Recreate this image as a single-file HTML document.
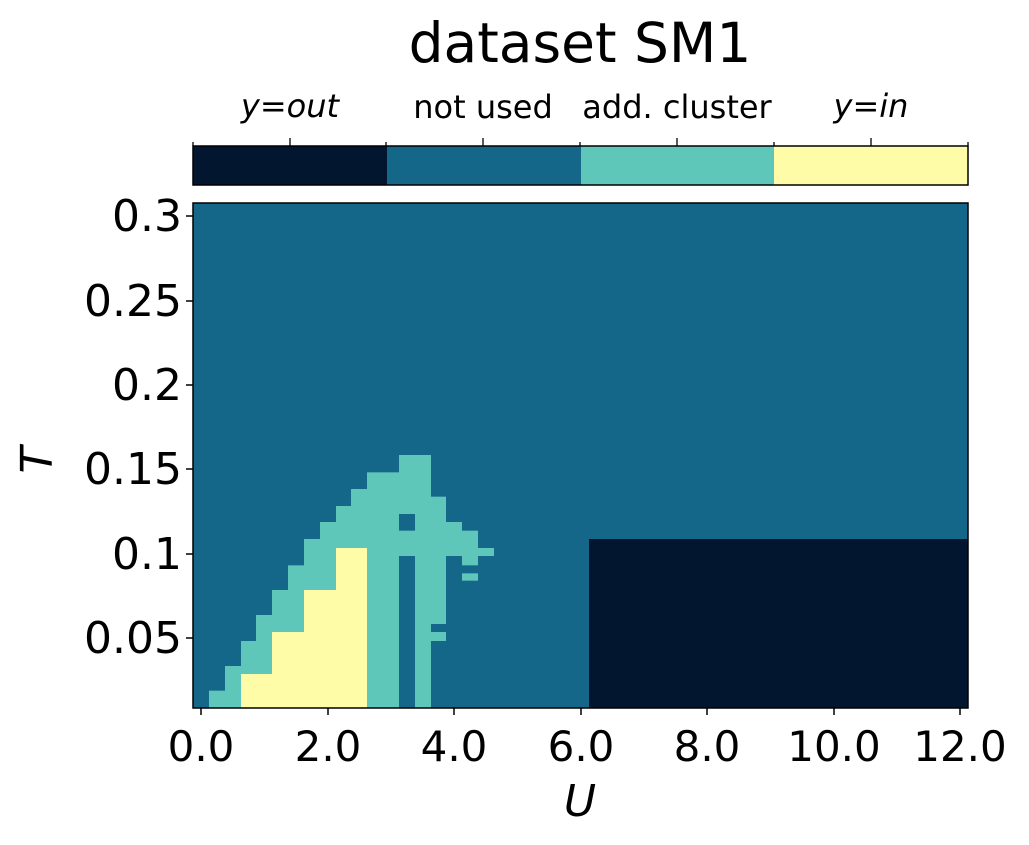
<!DOCTYPE html>
<html><head><style>body{margin:0;background:#fff}svg{display:block}</style></head>
<body>
<svg width="1029" height="845" viewBox="0 0 1029 845" xmlns="http://www.w3.org/2000/svg" font-family="'DejaVu Sans', 'Liberation Sans', sans-serif">
<text x="580" y="62" font-size="55" text-anchor="middle">dataset SM1</text>
<g font-size="32" text-anchor="middle">
<text x="290" y="117"><tspan font-style="italic">y</tspan>=<tspan font-style="italic">out</tspan></text>
<text x="483" y="118">not used</text>
<text x="677" y="118">add. cluster</text>
<text x="871" y="117"><tspan font-style="italic">y</tspan>=<tspan font-style="italic">in</tspan></text>
</g>
<rect x="193" y="146" width="194" height="39" fill="#02172f"/>
<rect x="387" y="146" width="194" height="39" fill="#15678a"/>
<rect x="581" y="146" width="193" height="39" fill="#5ec7b9"/>
<rect x="774" y="146" width="194" height="39" fill="#fffca7"/>
<rect x="193" y="146" width="775" height="39" fill="none" stroke="#000" stroke-width="1.5"/>
<g stroke="#000" stroke-width="1.3">
<line x1="290" y1="146" x2="290" y2="138"/><line x1="483" y1="146" x2="483" y2="138"/>
<line x1="677" y1="146" x2="677" y2="138"/><line x1="871" y1="146" x2="871" y2="138"/>
<line x1="193" y1="146" x2="193" y2="142"/><line x1="386" y1="146" x2="386" y2="142"/>
<line x1="580" y1="146" x2="580" y2="142"/><line x1="774" y1="146" x2="774" y2="142"/>
<line x1="968" y1="146" x2="968" y2="142"/>
</g>
<rect x="193" y="203" width="775" height="505" fill="#15678a"/>
<rect x="589" y="539" width="379" height="169" fill="#02172f"/>
<g transform="translate(190,440) scale(0.3333333)">
<g fill="#5ec7b9">
<rect x="57" y="752" width="48" height="52"/>
<rect x="105" y="678" width="48" height="126"/>
<rect x="153" y="603" width="45" height="99"/>
<rect x="198" y="525" width="48" height="177"/>
<rect x="246" y="450" width="48" height="126"/>
<rect x="294" y="376" width="48" height="200"/>
<rect x="342" y="297" width="48" height="153"/>
<rect x="390" y="246" width="48" height="204"/>
<rect x="438" y="198" width="45" height="126"/>
<rect x="483" y="147" width="48" height="177"/>
<rect x="531" y="97" width="96" height="707"/>
<rect x="627" y="45" width="48" height="177"/>
<rect x="627" y="272" width="48" height="76"/>
<rect x="675" y="45" width="48" height="759"/>
<rect x="723" y="170" width="45" height="382"/>
<rect x="723" y="576" width="45" height="27"/>
<rect x="768" y="246" width="48" height="102"/>
<rect x="816" y="272" width="48" height="104"/>
<rect x="816" y="400" width="48" height="22"/>
<rect x="864" y="324" width="48" height="24"/>
</g>
<g fill="#fffca7">
<rect x="153" y="702" width="93" height="102"/>
<rect x="246" y="576" width="96" height="228"/>
<rect x="342" y="450" width="96" height="354"/>
<rect x="438" y="324" width="93" height="480"/>
</g>
</g>
<rect x="193" y="203" width="775" height="505" fill="none" stroke="#000" stroke-width="1.5"/>
<g stroke="#000" stroke-width="1.5">
<line x1="201" y1="708" x2="201" y2="715"/><line x1="328" y1="708" x2="328" y2="715"/>
<line x1="454" y1="708" x2="454" y2="715"/><line x1="581" y1="708" x2="581" y2="715"/>
<line x1="707" y1="708" x2="707" y2="715"/><line x1="834" y1="708" x2="834" y2="715"/>
<line x1="960" y1="708" x2="960" y2="715"/>
<line x1="193" y1="216" x2="186" y2="216"/><line x1="193" y1="301" x2="186" y2="301"/>
<line x1="193" y1="385" x2="186" y2="385"/><line x1="193" y1="469" x2="186" y2="469"/>
<line x1="193" y1="554" x2="186" y2="554"/><line x1="193" y1="638" x2="186" y2="638"/>
</g>
<g font-size="42" text-anchor="middle">
<text x="201" y="761">0.0</text><text x="328" y="761">2.0</text><text x="454" y="761">4.0</text>
<text x="581" y="761">6.0</text><text x="707" y="761">8.0</text><text x="834" y="761">10.0</text>
<text x="960" y="761">12.0</text>
</g>
<g font-size="44" text-anchor="end">
<text x="182" y="231">0.3</text><text x="182" y="316">0.25</text><text x="182" y="400">0.2</text>
<text x="182" y="484">0.15</text><text x="182" y="569">0.1</text><text x="182" y="653">0.05</text>
</g>
<text x="580" y="816" font-size="44" font-style="italic" text-anchor="middle">U</text>
<text x="52" y="460" font-size="44" font-style="italic" text-anchor="middle" transform="rotate(-90 52 460)">T</text>
</svg>
</body></html>
